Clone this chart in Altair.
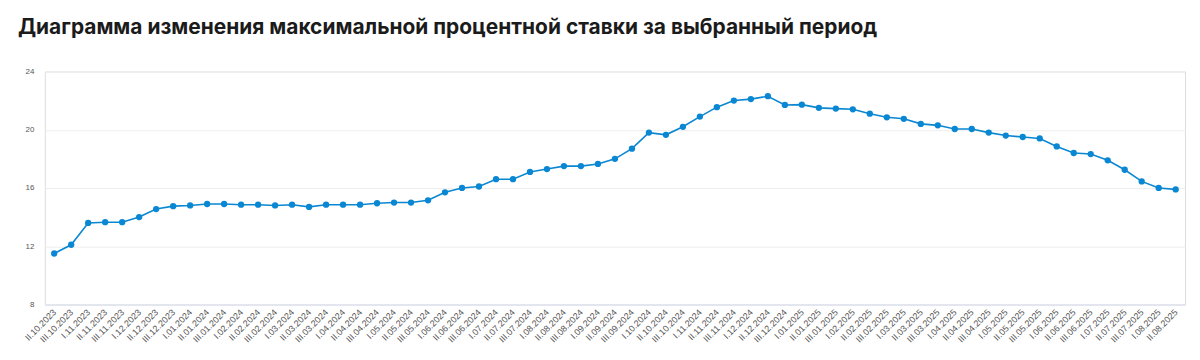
import altair as alt
import pandas as pd

title_text = "Диаграмма изменения максимальной процентной ставки за выбранный период"

periods = [
    "II.10.2023", "III.10.2023",
    "I.11.2023", "II.11.2023", "III.11.2023",
    "I.12.2023", "II.12.2023", "III.12.2023",
    "I.01.2024", "II.01.2024", "III.01.2024",
    "I.02.2024", "II.02.2024", "III.02.2024",
    "I.03.2024", "II.03.2024", "III.03.2024",
    "I.04.2024", "II.04.2024", "III.04.2024",
    "I.05.2024", "II.05.2024", "III.05.2024",
    "I.06.2024", "II.06.2024", "III.06.2024",
    "I.07.2024", "II.07.2024", "III.07.2024",
    "I.08.2024", "II.08.2024", "III.08.2024",
    "I.09.2024", "II.09.2024", "III.09.2024",
    "I.10.2024", "II.10.2024", "III.10.2024",
    "I.11.2024", "II.11.2024", "III.11.2024",
    "I.12.2024", "II.12.2024", "III.12.2024",
    "I.01.2025", "II.01.2025", "III.01.2025",
    "I.02.2025", "II.02.2025", "III.02.2025",
    "I.03.2025", "II.03.2025", "III.03.2025",
    "I.04.2025", "II.04.2025", "III.04.2025",
    "I.05.2025", "II.05.2025", "III.05.2025",
    "I.06.2025", "II.06.2025", "III.06.2025",
    "I.07.2025", "II.07.2025", "III.07.2025",
    "I.08.2025", "II.08.2025",
]

max_rate = [
    11.5, 12.1,
    13.6, 13.65, 13.65,
    14.0, 14.55, 14.75,
    14.8, 14.9, 14.9,
    14.85, 14.85, 14.8,
    14.85, 14.7, 14.85,
    14.85, 14.85, 14.95,
    15.0, 15.0, 15.15,
    15.7, 16.0, 16.1,
    16.6, 16.6, 17.1,
    17.3, 17.5, 17.5,
    17.65, 18.0, 18.7,
    19.8, 19.65, 20.2,
    20.9, 21.55, 22.0,
    22.1, 22.3, 21.7,
    21.72, 21.5, 21.45,
    21.4, 21.1, 20.85,
    20.75, 20.4, 20.3,
    20.05, 20.05, 19.8,
    19.6, 19.5, 19.4,
    18.85, 18.4, 18.33,
    17.9, 17.25, 16.45,
    16.0, 15.9,
]

y_ticks = [8, 12, 16, 20, 24]

df = pd.DataFrame({"period": periods, "rate": max_rate})

color = "#0a87d2"

x_enc = alt.X(
    "period:O",
    sort=periods,
    scale=alt.Scale(type="point", padding=0.55),
    axis=alt.Axis(
        title=None,
        labelAngle=-45,
        labelAlign="right",
        labelBaseline="middle",
        labelFontSize=9,
        labelColor="#555555",
        labelFont="Liberation Sans",
        labelPadding=6,
        ticks=False,
        domain=True,
        domainColor="#e3e6ef",
        domainWidth=2,
        grid=False,
        labelOverlap=False,
    ),
)
y_enc = alt.Y(
    "rate:Q",
    scale=alt.Scale(domain=[8, 24], nice=False, zero=False),
    axis=alt.Axis(
        title=None,
        values=y_ticks,
        labelFontSize=8,
        labelColor="#555555",
        labelFont="Liberation Sans",
        labelPadding=11,
        ticks=False,
        domain=False,
        grid=True,
        gridColor="#eeeeee",
        gridWidth=1,
    ),
)

base = alt.Chart(df).encode(x=x_enc, y=y_enc)
line = base.mark_line(color=color, strokeWidth=1.6)
pts = base.mark_point(filled=True, color=color, size=40, opacity=1)

chart = (
    alt.layer(line, pts)
    .properties(
        width=1145,
        height=234,
        autosize=alt.AutoSizeParams(type="none"),
        padding={"left": 37, "top": 63, "right": 7, "bottom": 45},
        title=alt.TitleParams(
            text=title_text,
            anchor="start",
            frame="group",
            dx=-27,
            offset=13,
            baseline="alphabetic",
            font="Inter",
            fontSize=21,
            fontWeight="bold",
            color="#1b1b1b",
        ),
    )
    .configure_view(strokeWidth=0, stroke="transparent")
    .configure(background="white")
)

chart.save("out.html", embed_options={"renderer": "svg", "actions": False})
